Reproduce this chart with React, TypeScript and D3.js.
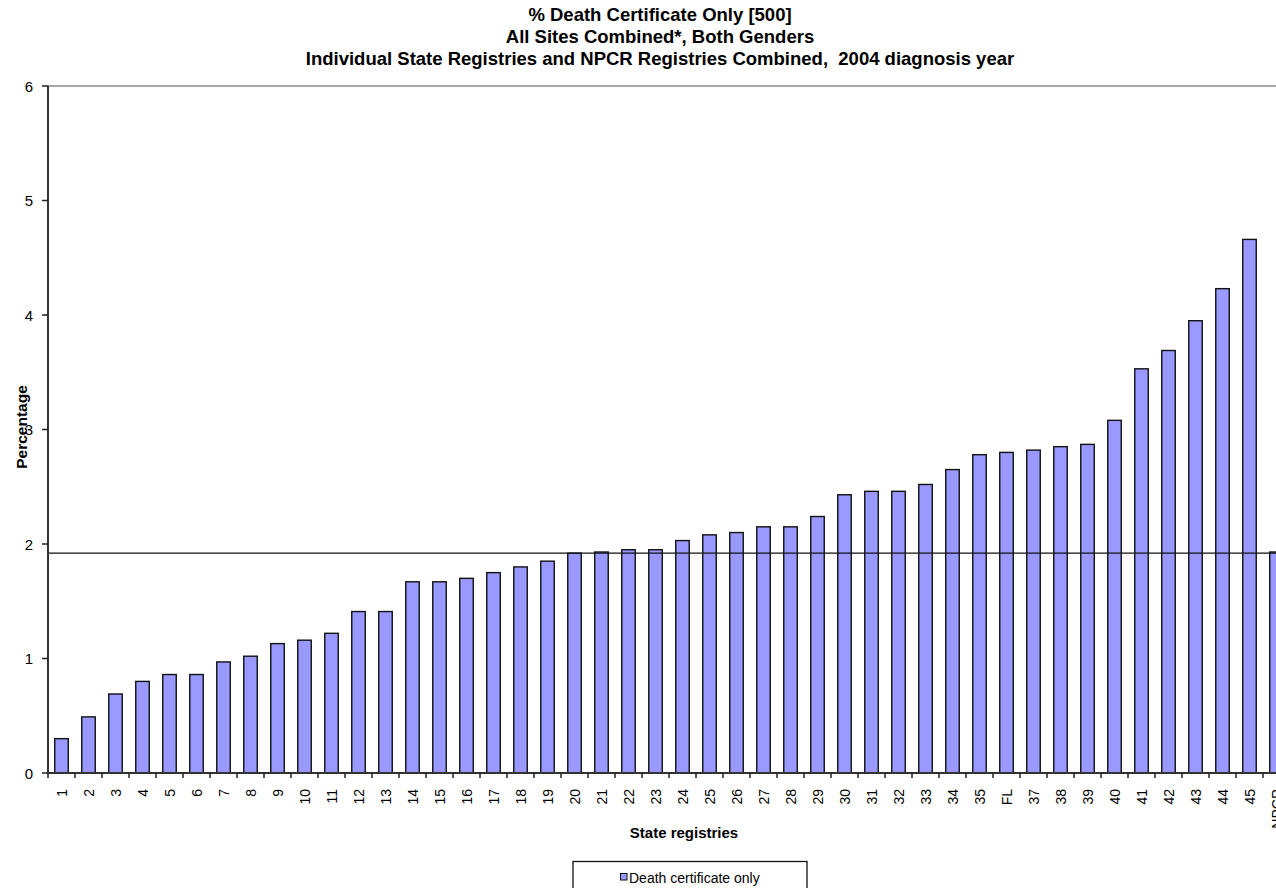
import React, { useEffect, useRef } from 'react';
import * as d3 from 'd3';

// registry labels, in chart order
const registries: string[] = [
  '1', '2', '3', '4', '5', '6', '7', '8', '9', '10',
  '11', '12', '13', '14', '15', '16', '17', '18', '19', '20',
  '21', '22', '23', '24', '25', '26', '27', '28', '29', '30',
  '31', '32', '33', '34', '35', 'FL', '37', '38', '39', '40',
  '41', '42', '43', '44', '45', 'NPCR',
];

// % death certificate only
const dcoPercent: number[] = [
  0.30, 0.49, 0.69, 0.80, 0.86, 0.86, 0.97, 1.02, 1.13, 1.16,
  1.22, 1.41, 1.41, 1.67, 1.67, 1.70, 1.75, 1.80, 1.85, 1.92,
  1.93, 1.95, 1.95, 2.03, 2.08, 2.10, 2.15, 2.15, 2.24, 2.43,
  2.46, 2.46, 2.52, 2.65, 2.78, 2.80, 2.82, 2.85, 2.87, 3.08,
  3.53, 3.69, 3.95, 4.23, 4.66, 1.93,
];

const npcrLine = 1.92;
const yTicks: number[] = [0, 1, 2, 3, 4, 5, 6];

const titleLines: string[] = [
  '% Death Certificate Only [500]',
  'All Sites Combined*, Both Genders',
  'Individual State Registries and NPCR Registries Combined,  2004 diagnosis year',
];

const App: React.FC = () => {
  const ref = useRef<SVGSVGElement>(null);

  useEffect(() => {
    if (!ref.current) return;
    const svg = d3.select(ref.current);
    svg.selectAll('*').remove();

    const font = "'Liberation Sans', Arial, sans-serif";
    const left = 48;
    const top = 86;
    const bottom = 773;
    // plot runs past the right edge of the picture (cropped)
    const right = left + 27 * (registries.length + 1);

    const x = d3.scaleBand<string>()
      .domain(registries)
      .range([left, right - 27])
      .paddingInner(0.5)
      .paddingOuter(0.25);

    const y = d3.scaleLinear().domain([0, 6]).range([bottom, top]);

    // title
    svg.append('g')
      .selectAll('text')
      .data(titleLines)
      .enter()
      .append('text')
      .attr('x', 660)
      .attr('y', (_, i) => 21 + i * 22)
      .attr('text-anchor', 'middle')
      .style('font-family', font)
      .style('font-size', '18.5px')
      .style('font-weight', 'bold')
      .style('white-space', 'pre')
      .text(d => d);

    // top border of plot area
    svg.append('line')
      .attr('x1', left).attr('x2', right)
      .attr('y1', top).attr('y2', top)
      .attr('stroke', '#888')
      .attr('stroke-width', 1.5);

    // bars
    svg.append('g')
      .selectAll('rect')
      .data(dcoPercent)
      .enter()
      .append('rect')
      .attr('x', (_, i) => x(registries[i]) as number)
      .attr('width', x.bandwidth())
      .attr('y', d => y(d))
      .attr('height', d => bottom - y(d))
      .attr('fill', '#9999FF')
      .attr('stroke', '#111')
      .attr('stroke-width', 1.4);

    // NPCR reference line
    svg.append('line')
      .attr('x1', left).attr('x2', right)
      .attr('y1', y(npcrLine)).attr('y2', y(npcrLine))
      .attr('stroke', '#111')
      .attr('stroke-width', 1.3);

    // y axis
    const yAxis = svg.append('g');
    yAxis.append('line')
      .attr('x1', left).attr('x2', left)
      .attr('y1', top).attr('y2', bottom)
      .attr('stroke', '#333')
      .attr('stroke-width', 2);
    yAxis.selectAll('.ytick')
      .data(yTicks)
      .enter()
      .append('line')
      .attr('x1', left - 6).attr('x2', left)
      .attr('y1', d => y(d)).attr('y2', d => y(d))
      .attr('stroke', '#222')
      .attr('stroke-width', 1.5);
    yAxis.selectAll('.ylab')
      .data(yTicks)
      .enter()
      .append('text')
      .attr('x', 33)
      .attr('y', d => y(d) + 5.5)
      .attr('text-anchor', 'end')
      .style('font-family', font)
      .style('font-size', '15px')
      .text(d => d);

    svg.append('text')
      .attr('transform', 'translate(27,427) rotate(-90)')
      .attr('text-anchor', 'middle')
      .style('font-family', font)
      .style('font-size', '15.5px')
      .style('font-weight', 'bold')
      .text('Percentage');

    // x axis
    const xAxis = svg.append('g');
    xAxis.append('line')
      .attr('x1', left).attr('x2', right)
      .attr('y1', bottom).attr('y2', bottom)
      .attr('stroke', '#333')
      .attr('stroke-width', 2);
    const step = x.step();
    xAxis.selectAll('.xtick')
      .data(registries)
      .enter()
      .append('line')
      .attr('x1', d => (x(d) as number) - step * 0.25)
      .attr('x2', d => (x(d) as number) - step * 0.25)
      .attr('y1', bottom).attr('y2', bottom + 5)
      .attr('stroke', '#222')
      .attr('stroke-width', 1.5);
    xAxis.selectAll('.xlab')
      .data(registries)
      .enter()
      .append('text')
      .attr('transform', d => `translate(${(x(d) as number) + x.bandwidth() / 2 + 5},789) rotate(-90)`)
      .attr('text-anchor', 'end')
      .style('font-family', font)
      .style('font-size', '14px')
      .text(d => d);

    svg.append('text')
      .attr('x', 684)
      .attr('y', 838)
      .attr('text-anchor', 'middle')
      .style('font-family', font)
      .style('font-size', '15px')
      .style('font-weight', 'bold')
      .text('State registries');

    // legend
    const legend = svg.append('g');
    legend.append('rect')
      .attr('x', 573).attr('y', 861.5)
      .attr('width', 234).attr('height', 40)
      .attr('fill', 'none')
      .attr('stroke', '#111')
      .attr('stroke-width', 1.3);
    legend.append('rect')
      .attr('x', 620.5).attr('y', 873.5)
      .attr('width', 6.5).attr('height', 6.5)
      .attr('fill', '#9999FF')
      .attr('stroke', '#111')
      .attr('stroke-width', 1);
    legend.append('text')
      .attr('x', 629)
      .attr('y', 883)
      .style('font-family', font)
      .style('font-size', '14px')
      .text('Death certificate only');
  }, []);

  return (
    <div style={{ position: 'fixed', left: 0, top: 0, width: 1276, height: 888, background: '#fff' }}>
      <svg ref={ref} width={1276} height={888} style={{ display: 'block', overflow: 'hidden' }} />
    </div>
  );
};

export default App;
